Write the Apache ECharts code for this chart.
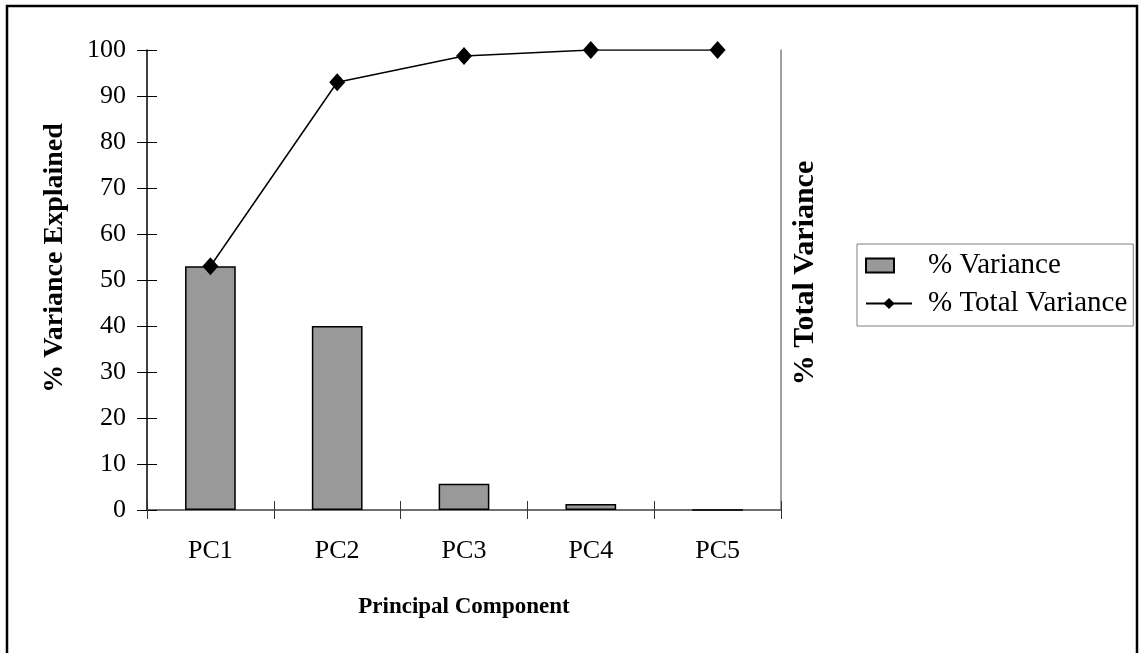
<!DOCTYPE html>
<html>
<head>
<meta charset="utf-8">
<script src="https://cdn.jsdelivr.net/npm/echarts@6/dist/echarts.min.js"></script>
<style>
  html, body { margin: 0; padding: 0; background: #ffffff; }
  #chart { width: 1139px; height: 653px; }
</style>
</head>
<body>
<div id="chart"></div>
<script>
// Principal components and their explained variance (%)
const components = ['PC1', 'PC2', 'PC3', 'PC4', 'PC5'];
const varianceExplained = [53.0, 40.0, 5.7, 1.3, 0.0];
const totalVariance = [53.0, 93.0, 98.7, 100.0, 100.0];
const yTicks = { min: 0, max: 100, interval: 10 };

const serif = 'Liberation Serif';
const chart = echarts.init(document.getElementById('chart'), null, { renderer: 'canvas' });

const hiddenAxisParts = {
  axisLabel: { show: false },
  axisTick: { show: false },
  splitLine: { show: false }
};

chart.setOption({
  backgroundColor: '#ffffff',
  animation: false,
  textStyle: { fontFamily: serif, color: '#000' },
  grid: { left: 147, right: 358, top: 50, bottom: 143, containLabel: false },
  legend: {
    orient: 'vertical',
    left: 857,
    top: 244,
    padding: [7, 6, 8, 8],
    itemGap: 9,
    itemWidth: 46,
    itemHeight: 14,
    borderColor: '#808080',
    borderWidth: 1,
    textStyle: { fontFamily: serif, fontSize: 29, color: '#000', padding: [0, 0, 0, 11] },
    data: [
      // box swatch kept at the left end of the icon slot
      { name: '% Variance', icon: 'path://M0,0H28V14H0Z M46,7L46,7', itemStyle: { borderCap: 'butt' } },
      { name: '% Total Variance' }
    ]
  },
  xAxis: [
    {
      type: 'category',
      data: components,
      position: 'bottom',
      axisLine: { lineStyle: { color: '#000', width: 1.5 } },
      axisTick: { show: true, inside: false, length: 9, lineStyle: { color: '#333' } },
      axisLabel: { fontFamily: serif, fontSize: 26, color: '#000', margin: 28 },
      name: 'Principal Component',
      nameLocation: 'middle',
      nameGap: 86,
      nameTextStyle: { fontFamily: serif, fontSize: 23, fontWeight: 'bold', color: '#000' }
    },
    {
      // top frame of the plot area
      type: 'category',
      data: components,
      position: 'top',
      axisLine: { lineStyle: { color: '#808080', width: 1.5 } },
      ...hiddenAxisParts
    },
    {
      // inner half of the category ticks
      type: 'category',
      data: components,
      position: 'bottom',
      axisLine: { show: false },
      axisTick: { show: true, inside: true, length: 9, lineStyle: { color: '#333' } },
      axisLabel: { show: false },
      splitLine: { show: false }
    }
  ],
  yAxis: [
    {
      type: 'value',
      position: 'left',
      min: yTicks.min, max: yTicks.max, interval: yTicks.interval,
      axisLine: { show: true, lineStyle: { color: '#000', width: 1.5 } },
      axisTick: { show: true, inside: false, length: 10, lineStyle: { color: '#000' } },
      axisLabel: { fontFamily: serif, fontSize: 26, color: '#000', margin: 21 },
      splitLine: { show: false },
      name: '% Variance Explained',
      nameLocation: 'middle',
      nameGap: 78,
      nameTextStyle: { fontFamily: serif, fontSize: 28, fontWeight: 'bold', color: '#000', padding: [0, 0, 0, 44] }
    },
    {
      type: 'value',
      position: 'right',
      min: yTicks.min, max: yTicks.max, interval: yTicks.interval,
      axisLine: { show: true, lineStyle: { color: '#808080', width: 1.5 } },
      ...hiddenAxisParts,
      name: '% Total Variance',
      nameLocation: 'middle',
      nameGap: 9,
      nameTextStyle: { fontFamily: serif, fontSize: 30, fontWeight: 'bold', color: '#000', padding: [0, 0, 0, 14] }
    },
    {
      // inner half of the value ticks
      type: 'value',
      position: 'left',
      min: yTicks.min, max: yTicks.max, interval: yTicks.interval,
      axisLine: { show: false },
      axisTick: { show: true, inside: true, length: 10, lineStyle: { color: '#000' } },
      axisLabel: { show: false },
      splitLine: { show: false }
    }
  ],
  series: [
    {
      name: '% Variance',
      type: 'bar',
      xAxisIndex: 0,
      yAxisIndex: 0,
      data: varianceExplained,
      barWidth: '40%',
      itemStyle: { color: '#999999', borderColor: '#000', borderWidth: 1.5 },
      z: 2
    },
    {
      name: '% Total Variance',
      type: 'line',
      xAxisIndex: 0,
      yAxisIndex: 1,
      data: totalVariance,
      symbol: 'diamond',
      symbolSize: [16, 18],
      lineStyle: { color: '#000', width: 1.5 },
      itemStyle: { color: '#000' },
      z: 3
    }
  ],
  graphic: [
    {
      type: 'rect',
      shape: { x: 7, y: 6, width: 1130, height: 660 },
      style: { fill: 'none', stroke: '#000', lineWidth: 2.5 },
      silent: true
    }
  ]
});
</script>
</body>
</html>
